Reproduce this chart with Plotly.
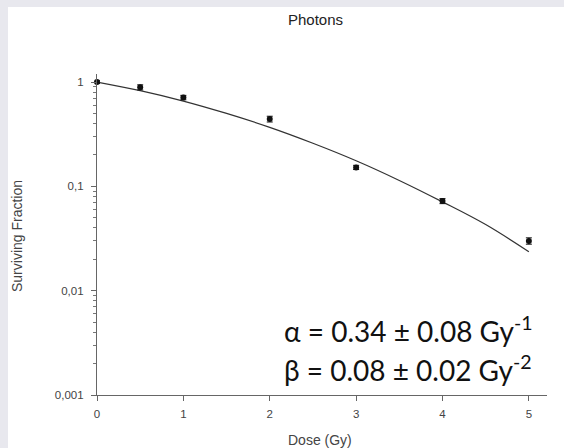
import plotly.graph_objects as go

# Measured data
dose = [0, 0.5, 1, 2, 3, 4, 5]
surv = [1.0, 0.89, 0.71, 0.442, 0.152, 0.0723, 0.0299]
err_plus = [0.03, 0.05, 0.035, 0.028, 0.007, 0.004, 0.0022]
err_minus = [0.03, 0.05, 0.035, 0.028, 0.007, 0.004, 0.0020]

# Fitted LQ curve
fit_dose = [0, 0.5, 1, 1.5, 2, 2.5, 3, 3.5, 4, 4.5, 5]
fit_surv = [1.0, 0.827, 0.657, 0.50, 0.368, 0.259, 0.176, 0.114, 0.071, 0.043, 0.0236]

ytick_vals = [0.001, 0.01, 0.1, 1]
ytick_text = ["0,001", "0,01", "0,1", "1"]
yminor_vals = [m * 10.0 ** e for e in (-3, -2, -1) for m in range(2, 10)]
xtick_vals = [0, 1, 2, 3, 4, 5]

W, H = 564, 448
L, R, T, B = 97, 547, 74, 395
pw, ph = R - L, B - T
YRANGE = [-3, 0.077]

def px(x):
    return (x - L) / pw

def py(y):
    return (B - y) / ph

fig = go.Figure()
# invisible trace to carry the minor-tick axis
fig.add_trace(go.Scatter(
    x=[dose[0]], y=[surv[0]], yaxis="y2", mode="markers",
    marker=dict(opacity=0), showlegend=False, hoverinfo="skip",
))
fig.add_trace(go.Scatter(
    x=fit_dose, y=fit_surv, mode="lines",
    line=dict(color="#333333", width=1.2, shape="spline"),
    showlegend=False, hoverinfo="skip", cliponaxis=False,
))
fig.add_trace(go.Scatter(
    x=dose, y=surv, mode="markers",
    marker=dict(color="#111111", size=6, symbol="circle"),
    error_y=dict(type="data", array=err_plus, arrayminus=err_minus,
                 color="#111111", thickness=1, width=3),
    showlegend=False, cliponaxis=False,
))

axis_font = dict(family="Liberation Sans, Arial, sans-serif", size=11.5, color="#444444")
title_font = dict(family="Liberation Sans, Arial, sans-serif", size=14, color="#444444")

fig.update_layout(
    width=W, height=H,
    margin=dict(l=L, r=W - R, t=T, b=H - B),
    paper_bgcolor="white", plot_bgcolor="white",
    xaxis=dict(
        range=[0, 5.21], tickvals=xtick_vals, ticks="outside", ticklen=5,
        tickcolor="#666666", showline=True, linecolor="#666666", linewidth=1.2,
        showgrid=False, zeroline=False, tickfont=axis_font, ticklabelstandoff=3,
    ),
    yaxis=dict(
        type="log", range=YRANGE, tickvals=ytick_vals, ticktext=ytick_text,
        ticks="outside", ticklen=5, tickcolor="#666666", showline=True,
        linecolor="#666666", linewidth=1.2, showgrid=False, zeroline=False,
        tickfont=axis_font, ticklabelstandoff=5,
    ),
    yaxis2=dict(
        type="log", range=YRANGE, overlaying="y", side="left", anchor="x",
        tickvals=yminor_vals, ticks="outside", ticklen=3, tickcolor="#777777",
        tickwidth=1, showticklabels=False, showline=False, showgrid=False,
        zeroline=False,
    ),
    shapes=[
        dict(type="rect", xref="paper", yref="paper",
             x0=px(0), x1=px(8), y0=py(H), y1=py(0),
             fillcolor="#e8e8ee", line=dict(width=0), layer="below"),
        dict(type="rect", xref="paper", yref="paper",
             x0=px(0), x1=px(W), y0=py(7), y1=py(0),
             fillcolor="#e8e8ee", line=dict(width=0), layer="below"),
    ],
    annotations=[
        dict(text="Photons", xref="paper", yref="paper", x=px(315), y=py(19),
             showarrow=False, xanchor="center", yanchor="middle",
             font=dict(family="Liberation Sans, Arial, sans-serif", size=15, color="#222222")),
        dict(text="Dose (Gy)", xref="paper", yref="paper", x=px(320), y=py(440),
             showarrow=False, xanchor="center", yanchor="middle", font=title_font),
        dict(text="Surviving Fraction", xref="paper", yref="paper", x=px(17), y=py(236),
             showarrow=False, xanchor="center", yanchor="middle", textangle=-90,
             font=title_font),
        dict(text="α = 0.34 ± 0.08 Gy<sup>-1</sup>", xref="paper", yref="paper",
             x=px(282), y=py(329), showarrow=False, xanchor="left", yanchor="middle",
             font=dict(family="Lato, Open Sans, sans-serif", size=28, color="#111111")),
        dict(text="β = 0.08 ± 0.02 Gy<sup>-2</sup>", xref="paper", yref="paper",
             x=px(282), y=py(368), showarrow=False, xanchor="left", yanchor="middle",
             font=dict(family="Lato, Open Sans, sans-serif", size=28, color="#111111")),
    ],
)

fig.write_html("out.html", config={"displayModeBar": False},
               post_script="document.body.style.margin='0';")
